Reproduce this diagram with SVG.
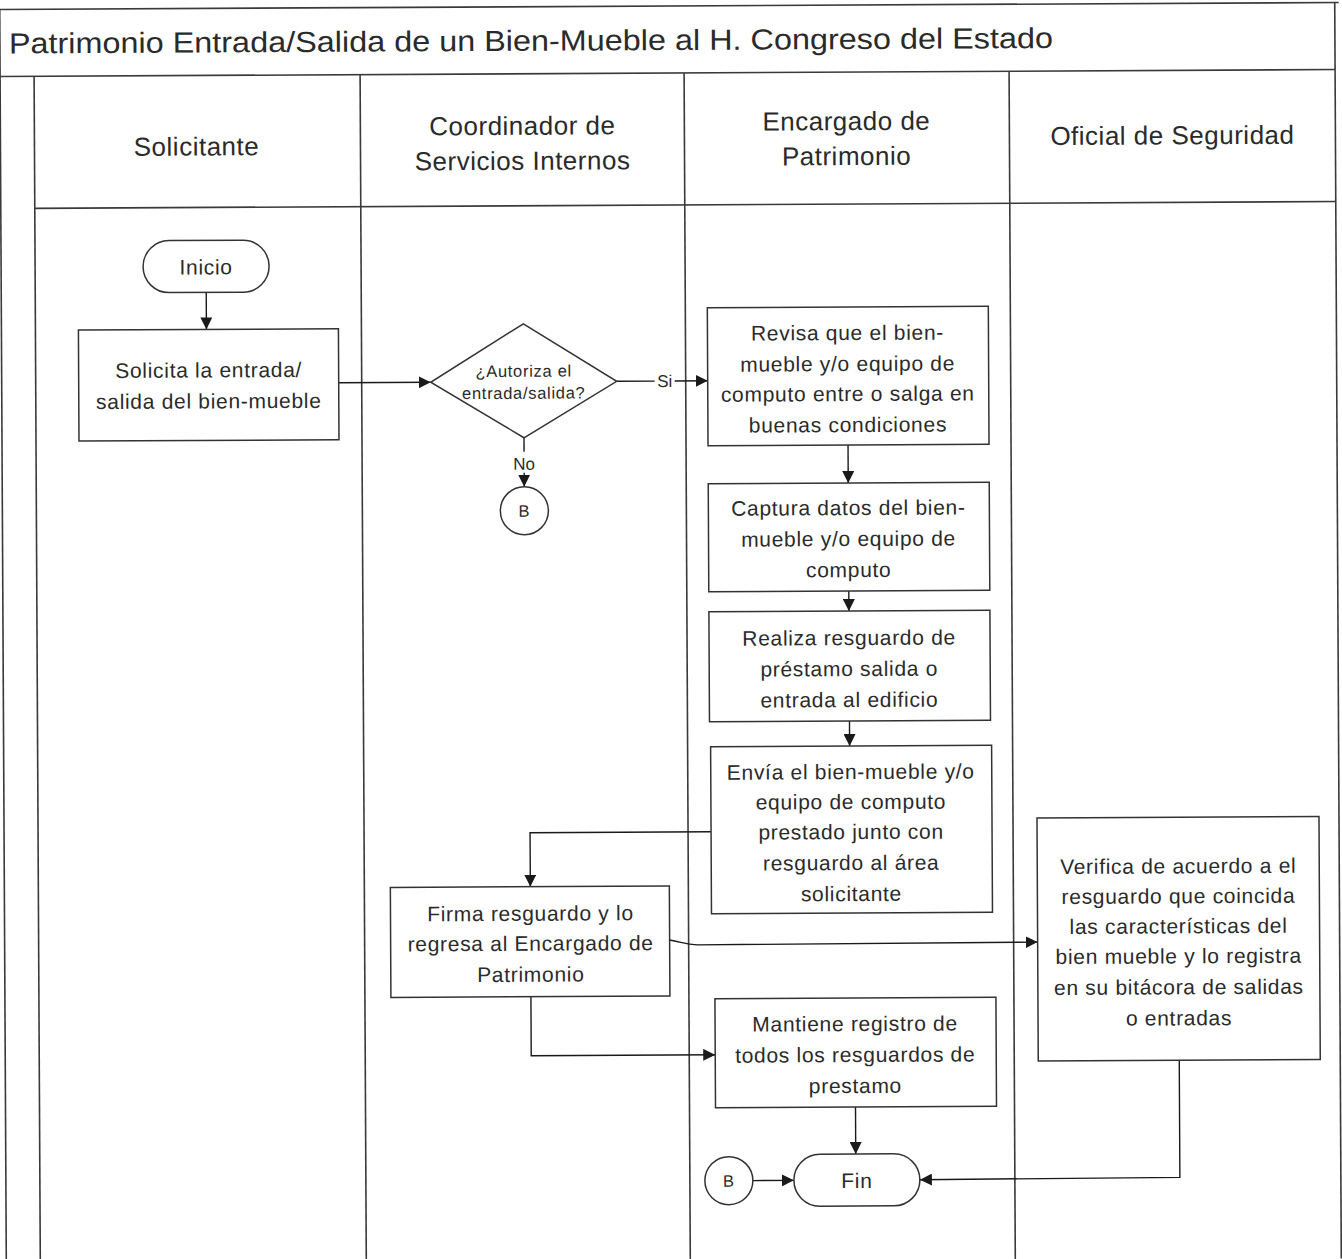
<svg xmlns="http://www.w3.org/2000/svg" width="1342" height="1259" viewBox="0 0 1342 1259">
<defs>
<marker id="arr" viewBox="0 0 10 10" refX="10" refY="5" markerWidth="12" markerHeight="12" markerUnits="userSpaceOnUse" orient="auto">
<path d="M0,0 L10,5 L0,10 z" fill="#1a1a1a"/>
</marker>
<style>
.frame{fill:none;stroke:#3a3a3a;stroke-width:1.6}
.box{fill:#fff;stroke:#333;stroke-width:1.5}
.t{font-family:"Liberation Sans",Arial,sans-serif;fill:#2a2a2a;text-anchor:middle}
.body{font-size:21px;letter-spacing:0.7px}
.hdr{font-size:26px;letter-spacing:0.5px}
.small{font-size:16.5px;letter-spacing:0.7px}
.lbl{font-size:17px}
.con{fill:none;stroke:#1a1a1a;stroke-width:1.4;marker-end:url(#arr)}
.line{fill:none;stroke:#1a1a1a;stroke-width:1.4}
</style>
</defs>
<rect width="1342" height="1259" fill="#fff"/>
<g transform="rotate(-0.3 671 630)">
<g id="frame">
<line class="frame" x1="0" y1="6" x2="1342" y2="6"/>
<line class="frame" x1="3" y1="6" x2="3" y2="1262"/>
<line class="frame" x1="1338" y1="6" x2="1338" y2="1262"/>
<line class="frame" x1="3" y1="73" x2="1338" y2="73"/>
<line class="frame" x1="37" y1="205" x2="1338" y2="205"/>
<line class="frame" x1="37" y1="73" x2="37" y2="1262"/>
<line class="frame" x1="363" y1="73" x2="363" y2="1262"/>
<line class="frame" x1="687" y1="73" x2="687" y2="1262"/>
<line class="frame" x1="1012" y1="73" x2="1012" y2="1262"/>
<text x="12" y="50" font-family="Liberation Sans, Arial, sans-serif" font-size="29" fill="#2a2a2a" textLength="1044" lengthAdjust="spacingAndGlyphs">Patrimonio Entrada/Salida de un Bien-Mueble al H. Congreso del Estado</text>
</g>
<g id="lane-solicitante"><text class="t hdr" x="199" y="153">Solicitante</text></g>
<g id="lane-coordinador"><text class="t hdr" x="525" y="134">Coordinador de</text><text class="t hdr" x="525" y="169">Servicios Internos</text></g>
<g id="lane-encargado"><text class="t hdr" x="849" y="131">Encargado de</text><text class="t hdr" x="849" y="166">Patrimonio</text></g>
<g id="lane-oficial"><text class="t hdr" x="1175" y="147">Oficial de Seguridad</text></g>

<g id="connectors">
<path class="con" d="M208 290 L208 327"/>
<path class="con" d="M340 381 L432 381"/>
<path class="line" d="M618 381 L656 381"/>
<path class="con" d="M676 381 L709 381"/>
<path class="line" d="M525 437 L525 451"/>
<path class="con" d="M525 472 L525 486"/>
<path class="con" d="M849 446 L849 484"/>
<path class="con" d="M849 592 L849 612"/>
<path class="con" d="M849 722 L849 747"/>
<path class="con" d="M710 832 L529 832 L529 886"/>
<path class="con" d="M668 940 C680 942 684 945 696 945 L1036 944"/>
<path class="con" d="M529 996 L529 1055 L713 1055"/>
<path class="con" d="M853 1108 L853 1155"/>
<path class="con" d="M1177 1063 L1177 1180 L917 1181"/>
<path class="con" d="M750 1181 L791 1181"/>
</g>

<g id="inicio">
<rect class="box" x="145" y="238" width="126" height="52" rx="26"/>
<text class="t body" x="208" y="272">Inicio</text>
</g>
<g id="solicita">
<rect class="box" x="80" y="327" width="260" height="111"/>
<text class="t body" x="210" y="375">Solicita la entrada/</text>
<text class="t body" x="210" y="406">salida del bien-mueble</text>
</g>
<g id="decision">
<polygon class="box" points="525,323 618,381 525,437 432,381"/>
<text class="t small" x="525" y="376">¿Autoriza el</text>
<text class="t small" x="525" y="398">entrada/salida?</text>
</g>
<g id="label-si"><text class="t lbl" x="666" y="387">Si</text></g>
<g id="label-no"><text class="t lbl" x="525" y="469">No</text></g>
<g id="conector-b1">
<circle class="box" cx="525" cy="510" r="24"/>
<text class="t small" x="525" y="516">B</text>
</g>
<g id="revisa">
<rect class="box" x="709" y="308" width="281" height="138"/>
<text class="t body" x="849" y="341">Revisa que el bien-</text>
<text class="t body" x="849" y="372">mueble y/o equipo de</text>
<text class="t body" x="849" y="402">computo entre o salga en</text>
<text class="t body" x="849" y="433">buenas condiciones</text>
</g>
<g id="captura">
<rect class="box" x="709" y="484" width="281" height="108"/>
<text class="t body" x="849" y="516">Captura datos del bien-</text>
<text class="t body" x="849" y="547">mueble y/o equipo de</text>
<text class="t body" x="849" y="578">computo</text>
</g>
<g id="realiza">
<rect class="box" x="709" y="612" width="281" height="110"/>
<text class="t body" x="849" y="646">Realiza resguardo de</text>
<text class="t body" x="849" y="677">préstamo salida o</text>
<text class="t body" x="849" y="708">entrada al edificio</text>
</g>
<g id="envia">
<rect class="box" x="710" y="747" width="281" height="167"/>
<text class="t body" x="850" y="780">Envía el bien-mueble y/o</text>
<text class="t body" x="850" y="810">equipo de computo</text>
<text class="t body" x="850" y="840">prestado junto con</text>
<text class="t body" x="850" y="871">resguardo al área</text>
<text class="t body" x="850" y="902">solicitante</text>
</g>
<g id="firma">
<rect class="box" x="389" y="886" width="279" height="110"/>
<text class="t body" x="529" y="920">Firma resguardo y lo</text>
<text class="t body" x="529" y="950">regresa al Encargado de</text>
<text class="t body" x="529" y="981">Patrimonio</text>
</g>
<g id="verifica">
<rect class="box" x="1036" y="820" width="282" height="243"/>
<text class="t body" x="1177" y="876">Verifica de acuerdo a el</text>
<text class="t body" x="1177" y="906">resguardo que coincida</text>
<text class="t body" x="1177" y="936">las características del</text>
<text class="t body" x="1177" y="966">bien mueble y lo registra</text>
<text class="t body" x="1177" y="997">en su bitácora de salidas</text>
<text class="t body" x="1177" y="1028">o entradas</text>
</g>
<g id="mantiene">
<rect class="box" x="713" y="999" width="281" height="109"/>
<text class="t body" x="853" y="1032">Mantiene registro de</text>
<text class="t body" x="853" y="1063">todos los resguardos de</text>
<text class="t body" x="853" y="1094">prestamo</text>
</g>
<g id="conector-b2">
<circle class="box" cx="726" cy="1181" r="24"/>
<text class="t small" x="726" y="1187">B</text>
</g>
<g id="fin">
<rect class="box" x="791" y="1155" width="126" height="52" rx="26"/>
<text class="t body" x="854" y="1189">Fin</text>
</g>
</g>
</svg>
